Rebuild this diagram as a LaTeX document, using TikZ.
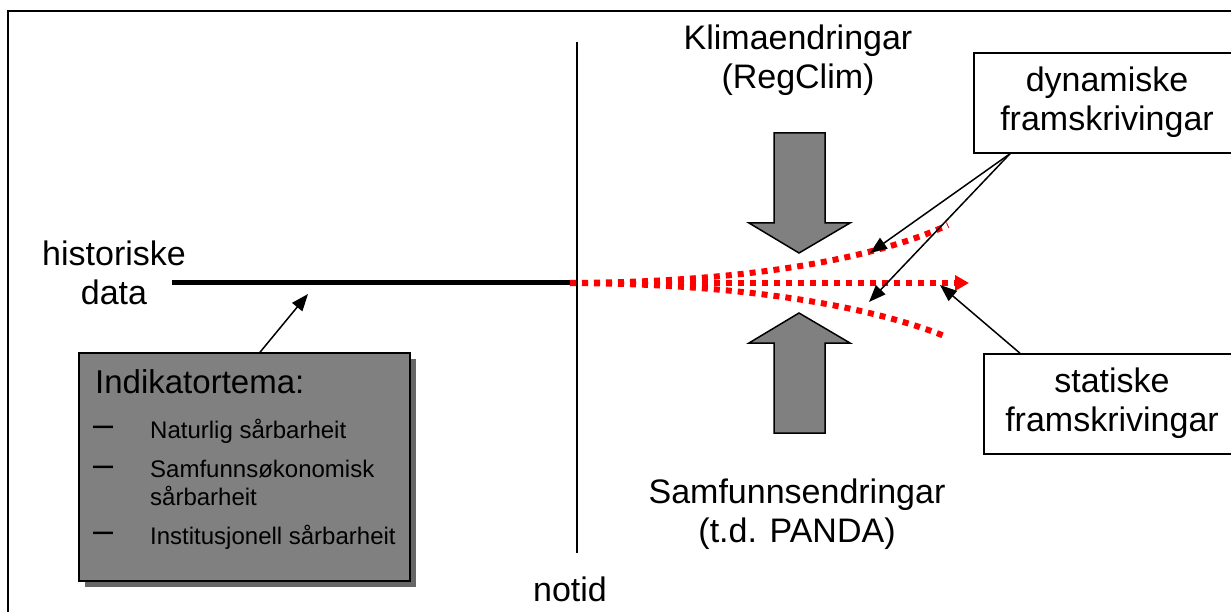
\documentclass[tikz,border=0pt]{standalone}
\usepackage{fontspec}
\setmainfont{Liberation Sans}
\usetikzlibrary{arrows.meta,shadows}
\definecolor{boxgray}{HTML}{808080}
\definecolor{shadowgray}{HTML}{666666}
\tikzset{
  big/.style={font=\fontsize{34}{39}\selectfont, inner sep=0pt, align=center},
  small/.style={font=\fontsize{24}{26}\selectfont, inner sep=0pt, align=left},
  label box/.style={big, draw=black, line width=1.5pt, fill=white},
  conn/.style={draw=black, line width=1.5pt, -{Triangle[length=17pt,width=13pt]}},
  reddot/.style={draw=red, line width=6pt, dash pattern=on 6pt off 6pt},
  blockarrow/.style={fill=boxgray, draw=black, line width=1.5pt, line join=miter},
}
\begin{document}
\begin{tikzpicture}[x=1pt,y=-1pt]
\useasboundingbox (0,0) rectangle (1231,612);
% frame
\draw[line width=2.5pt] (8,11) rectangle (1260,640);

% texts
\node[big] (klima) at (798,61.7) {\strut Klimaendringar\\\strut (RegClim)};
\node[big] (samf) at (797,514.7) {\strut Samfunnsendringar\\\strut (t.d. PANDA)};
\node[big] (hist) at (114,277.7) {\strut historiske\\\strut data};
\node[big, anchor=base] (notid) at (570,601) {notid};

% boxes on right
\node[label box, minimum width=266pt, minimum height=100pt] (dyn) at (1107,103) {\strut dynamiske\\\strut framskrivingar};
\node[label box, minimum width=256pt, minimum height=100pt] (stat) at (1112,404) {\strut statiske\\\strut framskrivingar};

% indicator box
\node[draw=black, line width=1.5pt, fill=boxgray, minimum width=331pt, minimum height=228pt, inner sep=0pt,
      drop shadow={shadow xshift=6pt, shadow yshift=-6pt, fill=shadowgray, opacity=1}] (ind) at (244.5,467) {};
\node[font=\fontsize{33}{38}\selectfont, inner sep=0pt, anchor=base west] (indtitle) at (95,393) {Indikatortema:};
\node[font=\fontsize{36}{38}\selectfont, inner sep=0pt, anchor=base west] (d1) at (93,436) {–};
\node[font=\fontsize{36}{38}\selectfont, inner sep=0pt, anchor=base west] (d2) at (93,476) {–};
\node[font=\fontsize{36}{38}\selectfont, inner sep=0pt, anchor=base west] (d3) at (93,542) {–};
\node[small, anchor=north west] (i1) at (150,418.8) {\strut Naturlig sårbarheit};
\node[small, anchor=north west] (i2) at (150,458.8) {\strut Samfunnsøkonomisk\\\strut sårbarheit};
\node[small, anchor=north west] (i3) at (150,524.8) {\strut Institusjonell sårbarheit};

% time axis
\coordinate (histstart) at (172,283);
\coordinate (now) at (570,283);
\coordinate (nowtop) at (577,42);
\coordinate (nowbot) at (577,553);
\coordinate (histpt) at (308,294);
\draw[line width=1.5pt] (nowtop) -- (nowbot);
\draw[line width=5pt] (histstart) -- (now);

% gray block arrows
\draw[blockarrow] (774,133) -- (825,133) -- (825,223) -- (850,223) -- (799,253) -- (749,223) -- (774,223) -- cycle;
\draw[blockarrow] (774,433) -- (825,433) -- (825,343) -- (850,343) -- (799,313) -- (749,343) -- (774,343) -- cycle;

% red projections
\coordinate (e1) at (948,225);
\coordinate (e2) at (969,283);
\coordinate (e3) at (947,337);
\draw[reddot] (now) .. controls (760,282) and (880,256) .. (e1);
\draw[reddot] (now) .. controls (760,284) and (880,310) .. (e3);
\draw[reddot, -{Triangle[length=14pt,width=15pt]}] (now) -- (e2);

% connectors
\coordinate (t1) at (870,253);
\coordinate (t2) at (869,302);
\coordinate (t3) at (940,285);
\draw[conn] ([xshift=15.5pt]ind.north) -- (histpt);
\draw[conn] ([xshift=-97pt]dyn.south) -- (t1);
\draw[conn] ([xshift=-97pt]dyn.south) -- (t2);
\draw[conn] ([xshift=-92pt]stat.north) -- (t3);
\end{tikzpicture}
\end{document}
